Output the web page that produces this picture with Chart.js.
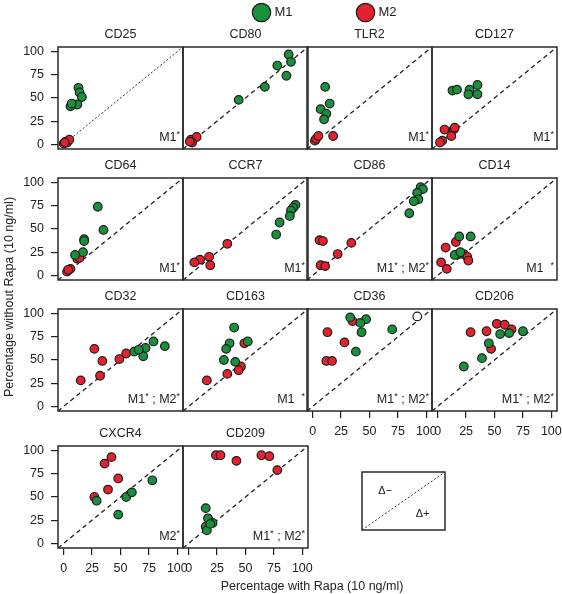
<!DOCTYPE html>
<html>
<head>
<meta charset="utf-8">
<script src="https://cdn.jsdelivr.net/npm/chart.js@4.4.0/dist/chart.umd.min.js"></script>
<style>
  body { margin: 0; background: #fff; width: 562px; height: 594px; position: relative; overflow: hidden;
         font-family: "Liberation Sans", Arial, Helvetica, sans-serif; color: #222; }
  .cell { position: absolute; }
  .ttl { position: absolute; font-size: 12.5px; line-height: 16px; text-align: center; }
  .axt { position: absolute; font-size: 12.5px; line-height: 16px; text-align: center; white-space: nowrap; }
</style>
</head>
<body>
<script>
// markers in reading order, 4 per row
const markers = ['CD25', 'CD80', 'TLR2', 'CD127',
                 'CD64', 'CCR7', 'CD86', 'CD14',
                 'CD32', 'CD163', 'CD36', 'CD206',
                 'CXCR4', 'CD209'];

// M1 (green) : x = with Rapa, y = without Rapa
const m1X = [
  [13, 14, 16, 12, 6, 7],
  [44, 67, 78, 88, 90, 86],
  [11, 15, 7, 12, 10],
  [13, 17, 28, 35, 27, 35],
  [30, 35, 18, 18, 17, 10],
  [94, 92, 90, 89, 80, 77],
  [95, 97, 92, 93, 89, 85],
  [19, 29, 19, 15, 20],
  [62, 72, 79, 89, 70, 66],
  [40, 36, 33, 52, 31, 41],
  [33, 47, 42, 43, 38, 70],
  [55, 63, 75, 45, 39, 23],
  [29, 55, 60, 78, 48],
  [15, 17, 21, 15, 16, 19]
];
const m1Y = [
  [61, 56, 51, 43, 41, 44],
  [48, 62, 85, 97, 89, 74],
  [62, 44, 38, 33, 27],
  [58, 59, 59, 64, 54, 54],
  [74, 49, 39, 37, 25, 22],
  [76, 73, 70, 64, 57, 44],
  [95, 93, 89, 82, 80, 67],
  [42, 42, 23, 22, 25],
  [59, 63, 70, 65, 54, 61],
  [85, 68, 62, 70, 50, 48],
  [96, 94, 90, 80, 59, 83],
  [78, 79, 81, 68, 52, 43],
  [46, 50, 55, 68, 31],
  [38, 27, 22, 18, 14, 21]
];

// M2 (red)
const m2X = [
  [0, 2, 3, 5, 1],
  [2, 7, 3, 1],
  [2, 3, 5, 18],
  [6, 14, 12, 15, 4, 2],
  [12, 14, 6, 3, 4],
  [34, 18, 10, 5, 19],
  [6, 9, 34, 22, 7, 11],
  [16, 7, 23, 26, 27, 3, 8],
  [27, 34, 32, 15, 49, 55],
  [49, 46, 44, 34, 16],
  [35, 13, 28, 12, 17],
  [29, 43, 52, 59, 65, 47],
  [42, 36, 48, 39, 27],
  [24, 28, 42, 64, 71, 78]
];
const m2Y = [
  [1, 3, 2, 5, 2],
  [5, 8, 2, 3],
  [4, 6, 9, 9],
  [16, 16, 9, 18, 4, 2],
  [18, 19, 7, 4, 6],
  [34, 20, 17, 14, 11],
  [38, 37, 35, 23, 11, 10],
  [36, 30, 23, 20, 16, 14, 7],
  [62, 49, 33, 28, 51, 57],
  [68, 43, 39, 35, 28],
  [92, 80, 69, 49, 49],
  [80, 81, 89, 88, 83, 62],
  [93, 86, 70, 58, 50],
  [95, 95, 89, 95, 94, 79]
];

// unfilled point in CD36
const openPanel = 'CD36';
const openX = [92];
const openY = [97];

// significance notes, '*' drawn raised
const notes = ['M1*', '', 'M1*', 'M1*',
               'M1*', 'M1*', 'M1* ; M2*', 'M1  *',
               'M1* ; M2*', 'M1  *', 'M1* ; M2*', 'M1* ; M2*',
               'M2*', 'M1* ; M2*'];

const tickValues = [0, 25, 50, 75, 100];
const axisMin = -5, axisMax = 105;

const green = '#18903c', red = '#e4222d', ink = '#1e1e1e';
const FONT = '"Liberation Sans", Arial, Helvetica, sans-serif';

// layout
const colLeft = [58, 183, 307, 432];
const rowTop = [47, 178, 309, 446];
const panelW = 125, panelH = 102, pad = 16;
const yAxisW = 50, xAxisH = 26;
const xTickPanels = ['CD36', 'CD206', 'CXCR4', 'CD209'];
const fineDiagonal = ['CD25'];

Chart.defaults.font.family = FONT;
Chart.defaults.font.size = 12.5;
Chart.defaults.color = '#222';

function drawNote(ctx, note, right, base) {
  const parts = note.split('*');
  const main = '12.5px ' + FONT, sup = '9px ' + FONT;
  ctx.font = main;
  let total = parts.reduce((s, p) => s + ctx.measureText(p).width, 0);
  ctx.font = sup;
  const starW = ctx.measureText('*').width;
  total += (parts.length - 1) * starW;
  let x = right - total;
  ctx.fillStyle = '#222';
  ctx.textBaseline = 'alphabetic';
  ctx.textAlign = 'left';
  parts.forEach((p, k) => {
    ctx.font = main;
    ctx.fillText(p, x, base);
    x += ctx.measureText(p).width;
    if (k < parts.length - 1) {
      ctx.font = sup;
      ctx.fillText('*', x, base - 4);
      x += starW;
    }
  });
}

const frame = {
  id: 'frame',
  afterDraw(chart, args, opts) {
    const {ctx, chartArea: a} = chart;
    ctx.save();
    ctx.strokeStyle = '#2a2a2a';
    ctx.lineWidth = 1.5;
    ctx.strokeRect(a.left, a.top, a.right - a.left, a.bottom - a.top);
    if (opts.note) drawNote(ctx, opts.note, a.right - 3, a.bottom - 8);
    (opts.labels || []).forEach(l => {
      ctx.font = '11px ' + FONT;
      ctx.fillStyle = '#222';
      ctx.textAlign = 'center';
      ctx.textBaseline = 'middle';
      ctx.fillText(l.text, chart.scales.x.getPixelForValue(l.x), chart.scales.y.getPixelForValue(l.y));
    });
    ctx.restore();
  }
};

function axis(show, isX) {
  return {
    type: 'linear', min: axisMin, max: axisMax, display: show,
    afterBuildTicks: s => { s.ticks = tickValues.map(v => ({value: v})); },
    afterFit: s => {
      if (!show) return;
      if (isX) s.height = xAxisH; else s.width = yAxisW;
    },
    grid: {drawOnChartArea: false, tickLength: 7, color: ink, lineWidth: 1.2},
    border: {display: false},
    ticks: {padding: isX ? 6 : 7, maxRotation: 0, autoSkip: false}
  };
}

function pts(xs, ys) {
  return xs.map((x, j) => ({x: x, y: ys[j]}));
}

function addBox(left, top, w, h) {
  const div = document.createElement('div');
  div.className = 'cell';
  div.style.left = left + 'px';
  div.style.top = top + 'px';
  div.style.width = w + 'px';
  div.style.height = h + 'px';
  const cv = document.createElement('canvas');
  cv.width = w; cv.height = h;
  cv.style.width = w + 'px';
  cv.style.height = h + 'px';
  div.appendChild(cv);
  document.body.appendChild(div);
  return cv;
}

function addText(cls, text, left, top, width) {
  const d = document.createElement('div');
  d.className = cls;
  d.textContent = text;
  d.style.left = left + 'px';
  d.style.top = top + 'px';
  d.style.width = width + 'px';
  document.body.appendChild(d);
  return d;
}

markers.forEach((name, i) => {
  const row = Math.floor(i / 4), col = i % 4;
  const showY = col === 0;
  const showX = xTickPanels.includes(name);
  const left = colLeft[col] - pad - (showY ? yAxisW : 0);
  const top = rowTop[row] - pad;
  const w = panelW + 2 * pad + (showY ? yAxisW : 0);
  const h = panelH + 2 * pad + (showX ? xAxisH : 0);
  const cv = addBox(left, top, w, h);
  addText('ttl', name, colLeft[col], rowTop[row] - 21, panelW);

  const fine = fineDiagonal.includes(name);
  const datasets = [
    {label: 'M1', data: pts(m1X[i], m1Y[i]), backgroundColor: green, order: 1},
    {label: 'M2', data: pts(m2X[i], m2Y[i]), backgroundColor: red, order: 2},
    {type: 'line', data: [{x: axisMin, y: axisMin}, {x: axisMax, y: axisMax}],
     borderColor: ink, borderWidth: fine ? 0.9 : 1.3, borderDash: fine ? [2, 2] : [4.5, 3.5],
     pointRadius: 0, order: 3}
  ];
  if (name === openPanel) {
    datasets.push({label: 'open', data: pts(openX, openY), backgroundColor: '#fff', order: 0});
  }

  new Chart(cv, {
    type: 'scatter',
    data: {datasets: datasets},
    options: {
      responsive: false,
      maintainAspectRatio: false,
      animation: false,
      events: [],
      layout: {padding: pad},
      elements: {point: {radius: 4.3, borderColor: ink, borderWidth: 1.2}},
      scales: {x: axis(showX, true), y: axis(showY, false)},
      plugins: {legend: {display: false}, tooltip: {enabled: false}, frame: {note: notes[i]}}
    },
    plugins: [frame]
  });
});

// group legend at the top, one legend entry per small chart
const groups = ['M1', 'M2'];
const groupColors = [green, red];
const groupCircleX = [261, 365];
const legendPad = 10;
groups.forEach((g, k) => {
  const cv = addBox(groupCircleX[k] - 6.5 - legendPad, 12 - 6.5 - legendPad, 80, 100);
  new Chart(cv, {
    type: 'scatter',
    data: {datasets: [
      {label: g, data: [], backgroundColor: groupColors[k], borderColor: ink, borderWidth: 1.2, pointStyle: 'circle'}
    ]},
    options: {
      responsive: false, maintainAspectRatio: false, animation: false, events: [],
      scales: {x: {display: false}, y: {display: false}},
      plugins: {
        tooltip: {enabled: false},
        legend: {position: 'top', align: 'start',
                 labels: {usePointStyle: true, padding: legendPad, color: '#222', font: {size: 13}}}
      }
    }
  });
});

// key box: above / below the diagonal
const keyCv = addBox(362 - pad, 472 - pad, 83 + 2 * pad, 58 + 2 * pad);
new Chart(keyCv, {
  type: 'scatter',
  data: {datasets: [
    {type: 'line', data: [{x: 0, y: 0}, {x: 1, y: 1}], borderColor: ink, borderWidth: 0.9,
     borderDash: [2, 2], pointRadius: 0}
  ]},
  options: {
    responsive: false, maintainAspectRatio: false, animation: false, events: [],
    layout: {padding: pad},
    scales: {x: {display: false, min: 0, max: 1}, y: {display: false, min: 0, max: 1}},
    plugins: {legend: {display: false}, tooltip: {enabled: false},
              frame: {labels: [{text: 'Δ−', x: 0.28, y: 0.67}, {text: 'Δ+', x: 0.73, y: 0.28}]}}
  },
  plugins: [frame]
});

// axis titles
addText('axt', 'Percentage with Rapa (10 ng/ml)', 162, 578, 300);
const yt = addText('axt', 'Percentage without Rapa (10 ng/ml)', 9 - 150, 297 - 8, 300);
yt.style.transform = 'rotate(-90deg)';
</script>
</body>
</html>
